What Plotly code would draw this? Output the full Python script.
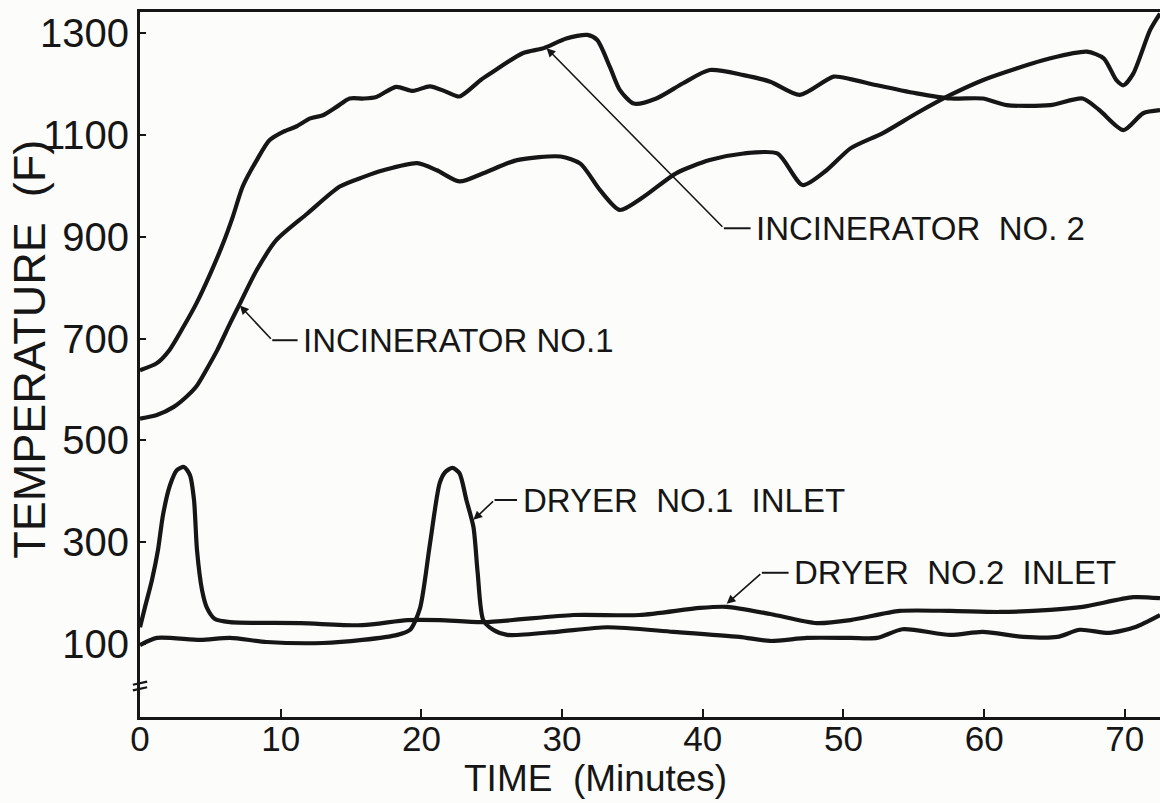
import plotly.graph_objects as go

# ---------------- data (time in minutes, temperature in F) ----------------
inc2_t = [0.0, 1.2, 2.1, 3.1, 4.0, 5.0, 5.9, 6.6, 7.3, 8.3, 9.2, 10.2, 11.1, 12.1, 13.0, 14.0,
          14.9, 15.9, 16.8, 18.2, 19.4, 20.6, 21.8, 22.7, 24.2, 24.9, 27.2, 28.7, 30.3, 31.8,
          32.5, 33.4, 34.1, 35.1, 36.7, 38.6, 40.5, 42.9, 44.8, 46.9, 49.3, 50.5, 52.4, 55.2,
          57.6, 59.9, 61.6, 64.7, 67.0, 68.2, 69.9, 71.3, 72.5]
inc2_v = [638, 652, 678, 724, 769, 828, 887, 940, 999, 1051, 1090, 1107, 1117, 1133, 1139, 1156,
          1172, 1172, 1175, 1195, 1187, 1196, 1185, 1176, 1208, 1221, 1261, 1271, 1290, 1297,
          1287, 1234, 1189, 1162, 1172, 1202, 1228, 1218, 1205, 1179, 1215, 1210, 1198, 1182,
          1172, 1172, 1159, 1159, 1172, 1149, 1110, 1143, 1149]

inc1_t = [0.0, 1.2, 2.4, 3.3, 4.0, 4.7, 5.5, 6.4, 7.1, 8.3, 9.7, 11.9, 14.2, 15.9, 17.3, 19.7,
          21.1, 22.7, 24.4, 26.8, 29.9, 31.3, 32.7, 34.1, 35.8, 38.1, 40.5, 42.9, 45.3, 47.1,
          48.8, 50.5, 52.8, 55.2, 57.6, 59.9, 62.3, 64.7, 67.3, 68.5, 69.4, 69.9, 70.6, 71.8, 72.5]
inc1_v = [543, 550, 566, 586, 606, 638, 678, 730, 769, 835, 894, 946, 999, 1018, 1031, 1045,
          1031, 1009, 1025, 1051, 1058, 1044, 992, 953, 979, 1025, 1051, 1064, 1064, 1002,
          1031, 1074, 1104, 1143, 1179, 1208, 1231, 1251, 1264, 1251, 1208, 1198, 1221, 1307, 1339]

dry1_t = [0.0, 1.2, 4.3, 6.4, 9.0, 13.0, 15.8, 18.3, 19.2, 19.9, 20.6, 21.3, 21.7, 22.2, 22.7,
          23.2, 23.7, 24.0, 24.4, 25.1, 26.1, 29.6, 33.2, 37.9, 42.6, 44.8, 47.4, 50.5, 52.4,
          54.2, 57.6, 59.9, 62.8, 65.2, 66.8, 68.9, 70.7, 72.5]
dry1_v = [98, 112, 108, 112, 104, 102, 108, 118, 128, 170, 295, 416, 438, 446, 436,
          383, 330, 240, 147, 128, 118, 124, 133, 124, 114, 106, 112, 112, 112,
          129, 118, 124, 114, 114, 128, 122, 133, 157]

dry2_t = [0.0, 0.36, 0.85, 1.28, 1.63, 2.13, 2.63, 3.13, 3.55, 3.84, 4.05, 4.41, 4.76, 5.33,
          6.4, 11.4, 15.8, 19.0, 21.3, 24.4, 30.8, 35.5, 39.8, 41.7, 44.8, 48.1, 50.5, 54.0,
          57.6, 61.1, 64.7, 67.0, 70.6, 72.5]
dry2_v = [133, 173, 226, 285, 353, 412, 442, 448, 432, 383, 285, 206, 171, 149,
          143, 141, 137, 147, 147, 143, 157, 157, 171, 173, 159, 141, 147, 165,
          165, 163, 167, 173, 192, 190]

x_ticks = [0, 10, 20, 30, 40, 50, 60, 70]
y_ticks = [100, 300, 500, 700, 900, 1100, 1300]
x_title = "TIME  (Minutes)"
y_title = "TEMPERATURE  (F)"

# label texts with leader geometry (tip on curve, bend, end of dash) in data units
labels = [
    dict(text="INCINERATOR  NO. 2", tip=(28.9, 1271), bend=(41.5, 917), end=(43.4, 917)),
    dict(text="INCINERATOR NO.1", tip=(7.1, 765), bend=(9.4, 697), end=(11.2, 697)),
    dict(text="DRYER  NO.1  INLET", tip=(23.7, 344), bend=(25.2, 383), end=(26.8, 383)),
    dict(text="DRYER  NO.2  INLET", tip=(41.7, 179), bend=(44.2, 240), end=(46.1, 240)),
]

INK = "#161616"
BG = "#fcfcfb"
FONT = "Liberation Sans, Arial, sans-serif"

fig = go.Figure()
for t, v in [(inc2_t, inc2_v), (inc1_t, inc1_v), (dry1_t, dry1_v), (dry2_t, dry2_v)]:
    fig.add_trace(go.Scatter(x=t, y=v, mode="lines",
                             line=dict(color=INK, width=4.2, shape="spline", smoothing=0.7),
                             showlegend=False, hoverinfo="skip"))

shapes = []
annotations = []
for lab in labels:
    (tx, ty), (bx, by), (ex, ey) = lab["tip"], lab["bend"], lab["end"]
    shapes.append(dict(type="line", xref="x", yref="y", x0=bx, y0=by, x1=ex, y1=ey,
                       line=dict(color=INK, width=2)))
    annotations.append(dict(x=tx, y=ty, ax=bx, ay=by, xref="x", yref="y", axref="x", ayref="y",
                            text="", showarrow=True, arrowhead=2, arrowsize=1.1,
                            arrowwidth=1.6, arrowcolor=INK))
    annotations.append(dict(x=ex + 0.25, y=ey, xref="x", yref="y", text=lab["text"],
                            showarrow=False, xanchor="left", yanchor="middle",
                            font=dict(family=FONT, size=33, color=INK)))

# axis break mark on the y axis
for yb in (23, 12):
    shapes.append(dict(type="line", xref="paper", yref="y", x0=-0.007, y0=yb - 3,
                       x1=0.007, y1=yb + 3, line=dict(color=INK, width=2.2)))

annotations.append(dict(x=0.447, y=-0.1195, xref="paper", yref="paper", text=x_title,
                        showarrow=False, xanchor="center", yanchor="bottom",
                        font=dict(family=FONT, size=37, color=INK)))
annotations.append(dict(x=-0.108, y=0.522, xref="paper", yref="paper", text=y_title,
                        showarrow=False, xanchor="center", yanchor="middle", textangle=-90,
                        font=dict(family=FONT, size=45, color=INK)))

fig.update_layout(
    width=1160, height=803,
    margin=dict(l=140, r=0, t=12, b=86),
    paper_bgcolor=BG, plot_bgcolor=BG,
    shapes=shapes, annotations=annotations,
    xaxis=dict(range=[0, 72.5], tickvals=x_ticks, ticktext=[str(v) for v in x_ticks],
               ticks="inside", ticklen=8, tickwidth=2, tickcolor=INK,
               showline=True, linewidth=3, linecolor=INK, mirror=True,
               showgrid=False, zeroline=False, ticklabelstandoff=-11,
               tickfont=dict(family=FONT, size=35, color=INK)),
    yaxis=dict(range=[-43.4, 1342], tickvals=y_ticks, ticktext=[str(v) for v in y_ticks],
               ticks="inside", ticklen=6, tickwidth=2, tickcolor=INK,
               showline=True, linewidth=3, linecolor=INK,
               showgrid=False, zeroline=False,
               tickfont=dict(family=FONT, size=40, color=INK)),
)

fig.write_html("out.html")
